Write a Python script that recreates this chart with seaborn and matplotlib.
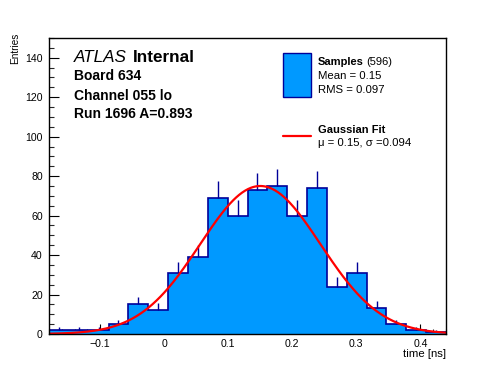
import numpy as np
import pandas as pd
import matplotlib
matplotlib.use('Agg')
import matplotlib.pyplot as plt
import seaborn as sns
from matplotlib.ticker import MultipleLocator

# histogram of sample times, 20 bins from -0.18 to 0.44 ns
x_lo, x_hi, n_bins = -0.18, 0.44, 20
counts = [2, 2, 2, 5, 15, 12, 31, 39, 69, 60,
          73, 75, 60, 74, 24, 31, 13, 5, 2, 1]

# gaussian fit parameters
fit_amp = 75.0
fit_mu = 0.15
fit_sigma = 0.094

n_samples = 596
mean_val = 0.15
rms_val = 0.097

sns.set_theme(style='ticks')
plt.rcParams['font.family'] = ['Liberation Sans', 'DejaVu Sans']
plt.rcParams['text.color'] = 'black'

W, H = 496, 372
fig = plt.figure(figsize=(W / 100, H / 100), dpi=100)
ax = fig.add_axes([49 / W, 1 - 334 / H, (446 - 49) / W, (334 - 38) / H])

bin_edges = np.linspace(x_lo, x_hi, n_bins + 1)
centers = (bin_edges[:-1] + bin_edges[1:]) / 2
df = pd.DataFrame({'time': centers, 'n': counts})

sns.histplot(data=df, x='time', weights='n', bins=n_bins, binrange=(x_lo, x_hi),
             element='step', fill=True, color='#0099ff', alpha=1.0, linewidth=0, ax=ax)
# outline
ax.stairs(counts, bin_edges, color='#000099', linewidth=1.2, baseline=None)
# upper error bars
cnt = np.array(counts, dtype=float)
ax.vlines(centers, cnt, cnt + np.sqrt(cnt), color='#000099', linewidth=1.0)

# gaussian fit curve
xs = np.linspace(x_lo, x_hi, 400)
fit_df = pd.DataFrame({'x': xs,
                       'y': fit_amp * np.exp(-0.5 * ((xs - fit_mu) / fit_sigma) ** 2)})
sns.lineplot(data=fit_df, x='x', y='y', color='#ff0000', linewidth=1.6, ax=ax)

ax.set_xlim(x_lo, x_hi)
ax.set_ylim(0, 150)
ax.xaxis.set_minor_locator(MultipleLocator(0.02))
ax.yaxis.set_minor_locator(MultipleLocator(5))
ax.set_xticks([-0.1, 0, 0.1, 0.2, 0.3, 0.4])
ax.set_xticklabels(['\u22120.1', '0', '0.1', '0.2', '0.3', '0.4'])
ax.set_yticks([0, 20, 40, 60, 80, 100, 120, 140])
ax.tick_params(which='major', direction='in', length=7, width=0.8, labelsize=7.6,
               colors='black')
ax.tick_params(which='minor', direction='in', length=3.5, width=0.8)
ax.tick_params(axis='x', which='both', top=False, pad=3.5)
ax.tick_params(axis='y', which='both', right=False, pad=4.5)
for s in ax.spines.values():
    s.set_linewidth(1.0)
    s.set_color('black')
ax.set_xlabel('')
ax.set_ylabel('')
ax.grid(False)

def px(x, y):
    return x / W, 1 - y / H

fig.text(*px(10, 33), 'Entries', rotation=90, ha='left', va='top', fontsize=7.2)
fig.text(*px(446, 357), 'time [ns]', ha='right', va='baseline', fontsize=8.2)

fig.text(*px(74, 62), 'ATLAS', style='italic', fontsize=12.3, va='baseline')
fig.text(*px(133, 62), 'Internal', fontweight='bold', fontsize=12.3, va='baseline')
fig.text(*px(74, 80), 'Board 634', fontweight='bold', fontsize=10, va='baseline')
fig.text(*px(74, 100), 'Channel 055 lo', fontweight='bold', fontsize=10, va='baseline')
fig.text(*px(74, 118), 'Run 1696 A=0.893', fontweight='bold', fontsize=10, va='baseline')

# legend drawn by hand, ROOT style
box = plt.Rectangle(px(283, 97), 28 / W, 44 / H, transform=fig.transFigure,
                    facecolor='#0099ff', edgecolor='#000099', linewidth=1.0)
fig.add_artist(box)
fig.text(*px(318, 65), 'Samples', fontweight='bold', fontsize=8, va='baseline')
fig.text(*px(366, 65), f'({n_samples})', fontsize=8, va='baseline')
fig.text(*px(318, 79), f'Mean = {mean_val:.2f}', fontsize=8.2, va='baseline')
fig.text(*px(318, 93), f'RMS = {rms_val:.3f}', fontsize=8.2, va='baseline')
fig.add_artist(plt.Line2D([283 / W, 311 / W], [1 - 136 / H] * 2, transform=fig.transFigure,
                          color='#ff0000', linewidth=1.6))
fig.text(*px(318, 133), 'Gaussian Fit', fontweight='bold', fontsize=8, va='baseline')
fig.text(*px(318, 146), f'\u03bc = {fit_mu:.2f}, \u03c3 ={fit_sigma:.3f}', fontsize=8.2,
         va='baseline')

fig.savefig('out.png', dpi=100, facecolor='white')
